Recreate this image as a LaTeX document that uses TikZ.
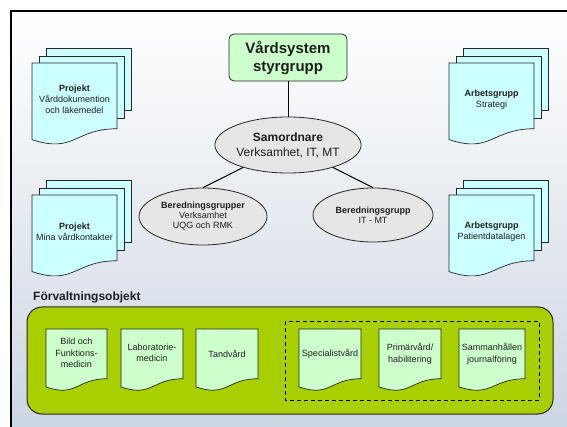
\documentclass[tikz,border=0pt]{standalone}
\usepackage{fontspec}
\setmainfont{Liberation Sans}
\usetikzlibrary{shapes.geometric}
\definecolor{bgbot}{RGB}{205,214,227}
\definecolor{doccyan}{RGB}{204,255,255}
\definecolor{docgreen}{RGB}{204,255,204}
\definecolor{elgray}{RGB}{230,230,230}
\definecolor{biggreen}{RGB}{168,208,0}
\definecolor{txt}{RGB}{30,30,30}
\newcommand{\mydoc}[5]{% x y w h fill
  \draw[docline,fill=#5] (#1,#2) -- ({#1+#3},#2) -- ({#1+#3},{#2+0.802*#4})
    .. controls ({#1+0.5*#3},{#2+0.802*#4}) and ({#1+0.5*#3},{#2+1.1075*#4}) .. (#1,{#2+0.934*#4}) -- cycle;}
\newcommand{\mymulti}[2]{% x y of front page
  \draw[docline,fill=doccyan] ({#1+14},{#2-15}) rectangle ({#1+99},{#2+47});
  \draw[docline,fill=doccyan] ({#1+7},{#2-7}) rectangle ({#1+92},{#2+55});
  \mydoc{#1}{#2}{85}{82}{doccyan}}
\begin{document}
\begin{tikzpicture}[x=1pt,y=-1pt,
  docline/.style={draw=black!85,line width=0.7pt},
  doctext/.style={align=center,text=txt,font=\fontsize{9}{11}\selectfont,inner sep=0pt},
  smalltext/.style={align=center,text=txt,font=\fontsize{9}{11.5}\selectfont,inner sep=0pt},
  ell/.style={ellipse,draw=black!85,line width=0.8pt,fill=elgray,align=center,text=txt,inner sep=0pt},
  conn/.style={draw=black,line width=1pt}]
\useasboundingbox (0,0) rectangle (567,427);
\fill[white] (0,0) rectangle (567,427);
\shade[top color=white,bottom color=bgbot] (10.5,11) rectangle (567,427);
\draw[line width=2pt,black] (10.5,427) -- (10.5,11) -- (567,11);

% top box
\node[draw=black!85,line width=0.8pt,fill=docgreen,rounded corners=5pt,
  minimum width=118pt,minimum height=47pt,align=center,
  font=\bfseries\fontsize{15}{18}\selectfont,text=txt] (sty) at (288,57.5) {Vårdsystem\\styrgrupp};
\node[ell,minimum width=127pt,minimum height=56pt,font=\fontsize{12}{15}\selectfont] (sam) at (288,145) {\textbf{Samordnare}\\Verksamhet, IT, MT};
\node[ell,minimum width=128pt,minimum height=57pt,font=\fontsize{9}{10}\selectfont] (bera) at (203,216.5) {\textbf{Beredningsgrupper}\\Verksamhet\\UQG och RMK};
\node[ell,minimum width=120pt,minimum height=54pt,font=\fontsize{9}{10.5}\selectfont] (berb) at (373,215) {\textbf{Beredningsgrupp}\\IT - MT};
\draw[conn] (sty) -- (sam);
\draw[conn] (sam) -- (bera.north);
\draw[conn] (sam) -- (berb.north);

% multidocuments
\mymulti{32}{63}
\node[doctext] (p1) at (74.5,99) {\textbf{Projekt}\\Vårddokumention\\och läkemedel};
\mymulti{32}{195}
\node[doctext] (p2) at (74.5,232) {\textbf{Projekt}\\Mina vårdkontakter};
\mymulti{449}{63}
\node[doctext] (a1) at (491.5,100) {\textbf{Arbetsgrupp}\\Strategi};
\mymulti{449}{195}
\node[doctext] (a2) at (491.5,232) {\textbf{Arbetsgrupp}\\Patientdatalagen};

% förvaltningsobjekt
\node[anchor=south west,inner sep=0pt,font=\bfseries\fontsize{12}{14}\selectfont,text=txt] (fo) at (33,303) {Förvaltningsobjekt};
\draw[draw=black!85,line width=1pt,fill=biggreen,rounded corners=15pt] (27,307) rectangle (553,414);
\draw[black,line width=1pt,dashed,dash pattern=on 4pt off 3pt] (285,321) rectangle (539,400);

\mydoc{46}{329}{61}{62}{docgreen}
\node[smalltext] (d1) at (76.5,353) {Bild och\\Funktions-\\medicin};
\mydoc{121}{329}{62}{62}{docgreen}
\node[smalltext] (d2) at (152,353) {Laboratorie-\\medicin};
\mydoc{196}{329}{62}{62}{docgreen}
\node[smalltext] (d3) at (227,354) {Tandvård};
\mydoc{299}{329}{62}{62}{docgreen}
\node[smalltext] (d4) at (330,354) {Specialistvård};
\mydoc{379}{329}{62}{62}{docgreen}
\node[smalltext] (d5) at (410,354) {Primärvård/\\habilitering};
\mydoc{459}{329}{66}{62}{docgreen}
\node[smalltext] (d6) at (492,354) {Sammanhållen\\journalföring};
\end{tikzpicture}
\end{document}
